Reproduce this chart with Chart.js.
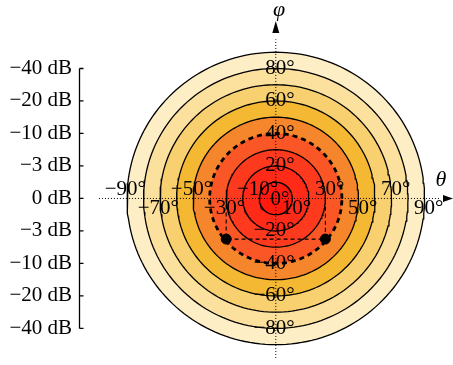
<!DOCTYPE html>
<html>
<head>
<meta charset="utf-8">
<script src="https://cdn.jsdelivr.net/npm/chart.js@4.4.0/dist/chart.umd.min.js"></script>
<style>
  html, body { margin: 0; padding: 0; background: #fff; overflow: hidden; }
  canvas { display: block; }
</style>
</head>
<body>
<canvas id="c" width="453" height="365"></canvas>
<script>
// contour circles, angle off boresight in degrees (outermost first)
const contourDeg = [90, 80, 70, 60, 50, 40, 30, 20, 10];
// fill of the band just inside each circle
const contourFill = ["#fdeec6", "#fbe09e", "#f8d070", "#f4b832", "#f6862b", "#fb5625", "#fe3a1e", "#ff2a17", "#ff1a10"];
const dashedDeg = 40;

// angle labels
const thetaTicks = [-90, -70, -50, -30, -10, 10, 30, 50, 70, 90];
const thetaAbove = [true, false, true, false, true, false, true, false, true, false];
const phiTicks = [80, 60, 40, 20, -20, -40, -60, -80];

// gain scale on the left
const dbPhi = [80, 60, 40, 20, 0, -20, -40, -60, -80];
const dbLabels = ["\u221240 dB", "\u221220 dB", "\u221210 dB", "\u22123 dB", "0 dB", "\u22123 dB", "\u221210 dB", "\u221220 dB", "\u221240 dB"];

// half-power marks
const markTheta = [-30, 30];
const markPhi = [-25, -25];

const FONT = "'Liberation Serif', 'DejaVu Serif', serif";
const PX_PER_DEG = 1.68;
const CX = 279, CY = 199, LEFT = 80, W = 453, H = 365;

function circle(r) {
  const pts = [];
  for (let i = 0; i <= 180; i++) {
    const t = i / 180 * 2 * Math.PI;
    pts.push({ x: r * Math.cos(t), y: r * Math.sin(t) });
  }
  return pts;
}

const datasets = contourDeg.map((r, i) => ({
  type: "line",
  data: circle(r),
  borderColor: "#000",
  borderWidth: r === dashedDeg ? 2.8 : 1.3,
  borderDash: r === dashedDeg ? [5, 4] : [],
  backgroundColor: contourFill[i],
  fill: "shape",
  pointRadius: 0,
  tension: 0,
  order: 50 - i
}));

// dotted coordinate axes
datasets.push({
  type: "line",
  data: [{ x: -107, y: 0 }, { x: 99.5, y: 0 }],
  borderColor: "#000", borderWidth: 1, borderDash: [1, 2],
  pointRadius: 0, fill: false, order: 10
});
datasets.push({
  type: "line",
  data: [{ x: 0, y: -100 }, { x: 0, y: 98 }],
  borderColor: "#000", borderWidth: 1, borderDash: [1, 2],
  pointRadius: 0, fill: false, order: 10
});
// dashed guide from axis to marks
datasets.push({
  type: "line",
  data: [
    { x: markTheta[0], y: 0 }, { x: markTheta[0], y: markPhi[0] },
    { x: markTheta[1], y: markPhi[1] }, { x: markTheta[1], y: 0 }
  ],
  borderColor: "#000", borderWidth: 1.1, borderDash: [4, 3],
  pointRadius: 0, fill: false, order: 8
});
datasets.push({
  type: "scatter",
  data: markTheta.map((t, i) => ({ x: t, y: markPhi[i] })),
  pointRadius: 5, pointBackgroundColor: "#000", pointBorderColor: "#000",
  order: 5
});

function drawDeg(ctx, v, x, y) {
  const s = String(Math.abs(v));
  const w = ctx.measureText(s).width;
  ctx.textAlign = "center";
  ctx.fillText(s, x, y);
  ctx.textAlign = "left";
  ctx.fillText("\u00b0", x + w / 2, y);
  if (v < 0) {
    ctx.textAlign = "right";
    ctx.fillText("\u2212", x - w / 2, y);
  }
}

const overlay = {
  id: "overlay",
  afterDatasetsDraw(chart) {
    const { ctx, scales } = chart;
    const xs = scales.x, ys = scales.y, yd = scales.yDb;
    ctx.save();
    ctx.fillStyle = "#000";
    ctx.strokeStyle = "#000";

    // arrow heads
    const ax = xs.getPixelForValue(0), ay = ys.getPixelForValue(0);
    ctx.beginPath();
    ctx.moveTo(453, ay);
    ctx.lineTo(443, ay - 3.5);
    ctx.lineTo(443, ay + 3.5);
    ctx.closePath();
    ctx.fill();
    ctx.beginPath();
    ctx.moveTo(ax, 21);
    ctx.lineTo(ax - 3.5, 33);
    ctx.lineTo(ax + 3.5, 33);
    ctx.closePath();
    ctx.fill();

    // angle labels
    ctx.font = "21px " + FONT;
    ctx.textBaseline = "middle";
    thetaTicks.forEach((t, i) => {
      drawDeg(ctx, t, xs.getPixelForValue(t), ay + (thetaAbove[i] ? -9 : 10));
    });
    phiTicks.forEach(p => {
      drawDeg(ctx, p, ax, ys.getPixelForValue(p));
    });
    drawDeg(ctx, 0, ax, ay + 1);

    // axis names
    ctx.font = "italic 22px " + FONT;
    ctx.textAlign = "center";
    ctx.fillText("\u03b8", 441, 180);
    ctx.fillText("\u03c6", 279, 10);

    // gain axis line with inward ticks
    const top = yd.getPixelForValue(dbPhi[0]);
    const bot = yd.getPixelForValue(dbPhi[dbPhi.length - 1]);
    ctx.lineWidth = 1.3;
    ctx.beginPath();
    ctx.moveTo(79.5, top);
    ctx.lineTo(79.5, bot);
    dbPhi.forEach(p => {
      const y = yd.getPixelForValue(p);
      ctx.moveTo(79.5, y);
      ctx.lineTo(83.5, y);
    });
    ctx.stroke();
    ctx.restore();
  }
};

const yMax = CY / PX_PER_DEG, yMin = -(H - CY) / PX_PER_DEG;

new Chart(document.getElementById("c"), {
  type: "scatter",
  data: { datasets: datasets },
  options: {
    responsive: false,
    animation: false,
    events: [],
    layout: { padding: 0 },
    plugins: { legend: { display: false }, tooltip: { enabled: false } },
    scales: {
      x: {
        type: "linear", display: false,
        min: (LEFT - CX) / PX_PER_DEG, max: (W - CX) / PX_PER_DEG
      },
      y: { type: "linear", display: false, min: yMin, max: yMax },
      yDb: {
        type: "linear", position: "left",
        min: yMin, max: yMax,
        afterFit: s => {
          s.width = LEFT;
          s.paddingTop = 0; s.paddingBottom = 0;
          s.paddingLeft = 0; s.paddingRight = 0;
        },
        afterBuildTicks: s => { s.ticks = dbPhi.map(v => ({ value: v })); },
        border: { display: false },
        grid: { drawOnChartArea: false, drawTicks: false },
        ticks: {
          autoSkip: false,
          padding: 8,
          color: "#000",
          font: { family: FONT, size: 21 },
          callback: v => dbLabels[dbPhi.indexOf(v)]
        }
      }
    }
  },
  plugins: [overlay]
});
</script>
</body>
</html>
